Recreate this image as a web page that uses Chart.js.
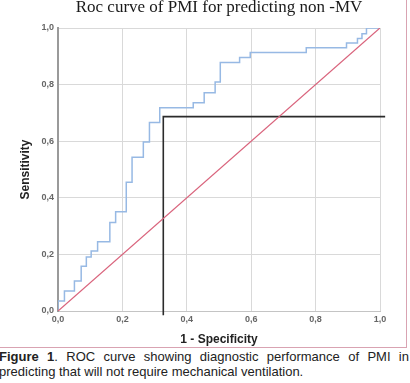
<!DOCTYPE html>
<html>
<head>
<meta charset="utf-8">
<script src="https://cdn.jsdelivr.net/npm/chart.js@4"></script>
<style>
  html, body { margin: 0; padding: 0; background: #fff; overflow: hidden; }
  body { width: 410px; height: 383px; position: relative; }
  #box { position: absolute; left: 0; top: 0; width: 406px; height: 347px; border-right: 1px solid #d9a3b2; border-bottom: 1px solid #d9a3b2; }
  #cap { position: absolute; left: -1px; top: 349px; width: 410px; font: 13px "Liberation Sans", Arial, sans-serif; color: #222; line-height: 15px; }
</style>
</head>
<body>
<div id="box"><canvas id="c" width="406" height="347"></canvas></div>
<div id="cap">
  <div style="text-align:justify;text-align-last:justify;"><b>Figure 1</b>. ROC curve showing diagnostic performance of PMI in</div>
  <div>predicting that will not require mechanical ventilation.</div>
</div>
<script>
// ---- data ----
const rocFPR = [0, 0, 0.020, 0.051, 0.072, 0.088, 0.103, 0.123, 0.161, 0.179, 0.212, 0.230, 0.265, 0.284, 0.316, 0.420, 0.454, 0.488, 0.504, 0.564, 0.597, 0.771, 0.896, 0.930, 0.944, 0.958, 1.0];
const rocTPR = [0, 0.035, 0.071, 0.106, 0.158, 0.191, 0.212, 0.245, 0.313, 0.351, 0.455, 0.543, 0.597, 0.666, 0.718, 0.736, 0.771, 0.809, 0.878, 0.896, 0.913, 0.930, 0.947, 0.963, 0.980, 1.0, 1.0];
const refX = [0, 1];
const refY = [0, 1];
const cutX = [0.327, 0.327, 1.016];
const cutY = [-0.015, 0.687, 0.687];
const tickLabels = ['0,0', '0,2', '0,4', '0,6', '0,8', '1,0'];
const chartTitle = 'Roc curve of PMI for predicting non -MV';
const xTitle = '1 - Specificity';
const yTitle = 'Sensitivity';

const pts = (xs, ys) => xs.map((x, i) => ({x: x, y: ys[i]}));
const tickCb = function(v) { const i = Math.round(v / 0.2); return (Math.abs(v - i * 0.2) < 1e-6) ? tickLabels[i] : ''; };
const tickFont = { family: '"Liberation Sans", Arial, sans-serif', size: 9, weight: 'bold' };
const axTitleFont = { family: '"Liberation Sans", Arial, sans-serif', size: 12, weight: 'bold', lineHeight: 1.2 };

new Chart(document.getElementById('c'), {
  type: 'scatter',
  data: {
    datasets: [
      { data: pts(refX, refY), showLine: true, borderColor: '#d9637c', borderWidth: 1.3, pointRadius: 0, fill: false },
      { data: pts(rocFPR, rocTPR), showLine: true, stepped: 'before', borderColor: '#97b9e4', borderWidth: 1.5, pointRadius: 0, fill: false },
      { data: pts(cutX, cutY), showLine: true, borderColor: '#2b2b2b', borderWidth: 1.6, pointRadius: 0, fill: false, clip: false }
    ]
  },
  options: {
    responsive: false,
    animation: false,
    layout: { padding: { left: 0, right: 26, top: 0, bottom: 0 } },
    plugins: {
      legend: { display: false },
      tooltip: { enabled: false },
      title: {
        display: true, text: chartTitle, fullSize: false, color: '#1a1a1a',
        font: { family: '"Liberation Serif", "Times New Roman", serif', size: 17, weight: 'normal', lineHeight: 0.9 },
        padding: { top: 0, bottom: 12.7 }
      }
    },
    scales: {
      x: {
        type: 'linear', min: 0, max: 1,
        afterFit: s => { s.height = 36; },
        grid: { color: '#d9d9d9', lineWidth: 1, drawTicks: false },
        border: { color: '#c4c4c4', width: 1 },
        ticks: { stepSize: 0.2, padding: 3, color: '#666', font: tickFont, callback: tickCb, maxRotation: 0 },
        title: { display: true, text: xTitle, color: '#222', font: axTitleFont, padding: { top: 0, bottom: 0 } }
      },
      y: {
        type: 'linear', min: 0, max: 1,
        afterFit: s => { s.width = 58; },
        grid: { color: '#d9d9d9', lineWidth: 1, drawTicks: false },
        border: { color: '#9a9a9a', width: 2 },
        ticks: { stepSize: 0.2, padding: 4, color: '#666', font: tickFont, callback: tickCb },
        title: { display: true, text: yTitle, color: '#222', font: axTitleFont, padding: { top: 18, bottom: 0 } }
      }
    }
  }
});
</script>
</body>
</html>
